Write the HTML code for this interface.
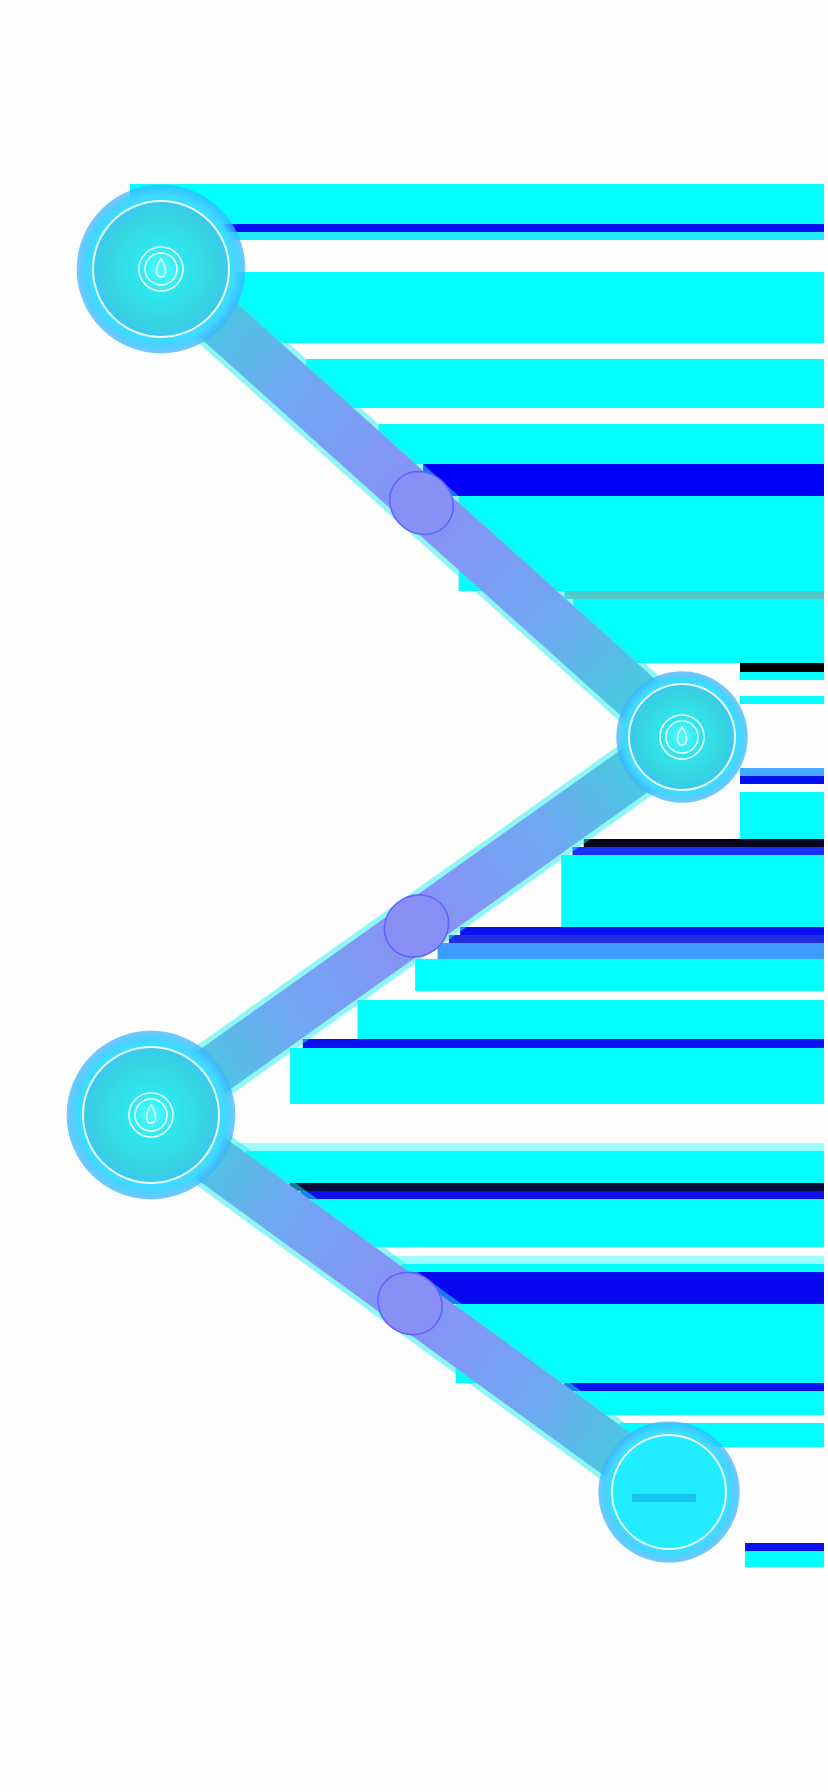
<!DOCTYPE html>
<html><head><meta charset="utf-8"><style>
html,body{margin:0;padding:0;background:#fdfdfd;}
svg{display:block;}
</style></head><body>
<svg id="chart" width="828" height="1792" viewBox="0 0 828 1792" xmlns="http://www.w3.org/2000/svg">
<defs>
<linearGradient id="lg" gradientUnits="objectBoundingBox" x1="0" y1="0" x2="1" y2="0">
<stop offset="0" stop-color="#33dcd6"/><stop offset="0.25" stop-color="#6fa8f2"/><stop offset="0.5" stop-color="#8a8ff6"/><stop offset="0.75" stop-color="#6fa8f2"/><stop offset="1" stop-color="#33dcd6"/>
</linearGradient>
<radialGradient id="nf"><stop offset="0" stop-color="#4ffcff"/><stop offset="0.35" stop-color="#2fe6ee"/><stop offset="0.8" stop-color="#36d4e0"/><stop offset="1" stop-color="#3cc8f0"/></radialGradient>
<radialGradient id="gl"><stop offset="0.7" stop-color="#33e8ff"/><stop offset="0.88" stop-color="#40d8ff"/><stop offset="1" stop-color="#3ab0ff" stop-opacity="0.7"/></radialGradient>
</defs>
<g id="bands"></g>
<g id="links"></g>
<g id="nodes"></g>
</svg>
<script>
const NS='http://www.w3.org/2000/svg';
const bandTop=[184,224,232,272,359,424,464,496,591,599,663,672,696,768,776,792,839,847,855,927,935,943,959,1000,1039,1048,1143,1151,1183,1191,1199,1256,1264,1272,1304,1383,1391,1423,1543,1551];
const bandBottom=[224,232,240,343,408,464,496,591,599,663,672,680,704,776,784,839,847,855,927,935,943,959,991,1039,1048,1104,1151,1183,1191,1199,1247,1264,1272,1304,1383,1391,1415,1447,1551,1567];
const bandColor=['#00ffff','#0a10f0','#20eaff','#00ffff','#00ffff','#00ffff','#0000f8','#00ffff','#50c8c8','#00ffff','#000000','#00ffff','#00ffff','#44aaff','#0010f0','#00ffff','#050520','#1a30ff','#00ffff','#0a10f0','#2030e0','#3c9cff','#00ffff','#00ffff','#0a10f0','#00ffff','#9cfcff','#00ffff','#08083a','#0a10f0','#00ffff','#9cfcff','#00ffff','#0808f0','#00ffff','#0a10f0','#00ffff','#00ffff','#0a10f0','#00ffff'];
const nodeX=[161,682,151,669];
const nodeY=[269,737,1115,1492];
const nodeR=[68,53,68,57];
const bumpT=[0.5,0.5,0.5];
const svg=document.getElementById('chart');
function mk(t,a,p){const e=document.createElementNS(NS,t);for(const k in a)e.setAttribute(k,a[k]);p.appendChild(e);return e;}
function centerX(y){
  if(y>=nodeY[nodeY.length-1]) return nodeX[nodeX.length-1];
  for(let i=0;i<nodeY.length-1;i++){
    if(y<=nodeY[i+1]){
      const t=(y-nodeY[i])/(nodeY[i+1]-nodeY[i]);
      return nodeX[i]+t*(nodeX[i+1]-nodeX[i]);
    }
  }
}
const bg=document.getElementById('bands');
for(let i=0;i<bandTop.length;i++){
  let y=bandTop[i];
  let x=y<240?130:centerX(y)+45;
  if(y>=660&&y<800) x=Math.max(x,740);
  if(y>=1530) x=745;
  const r=mk('rect',{x:x,y:y,width:Math.max(0,824-x),height:bandBottom[i]-y,fill:bandColor[i]},bg);
  
  
}
const lg=document.getElementById('links');
for(let i=0;i<nodeX.length-1;i++){
  const x1=nodeX[i],y1=nodeY[i],x2=nodeX[i+1],y2=nodeY[i+1];
  const len=Math.hypot(x2-x1,y2-y1),ang=Math.atan2(y2-y1,x2-x1)*180/Math.PI;
  const g=mk('g',{transform:`translate(${x1},${y1}) rotate(${ang})`},lg);
  
  
  mk('rect',{x:0,y:-30,width:len,height:60,fill:'#22f0f0',opacity:0.5},g);
  mk('rect',{x:0,y:-25,width:len,height:50,fill:'url(#lg)'},g);
  const b=mk('ellipse',{cx:len*bumpT[i],cy:0,rx:33,ry:30,fill:'#8890f6',stroke:'#6060ff','stroke-width':1.5},g);
  
  
}
const ng=document.getElementById('nodes');
for(let i=0;i<nodeX.length;i++){
  const cx=nodeX[i],cy=nodeY[i],r=nodeR[i];
  const g=mk('g',{},ng);
  
  
  mk('circle',{cx,cy,r:r*1.24,fill:'url(#gl)'},g);
  mk('circle',{cx,cy,r:r,fill:i==3?'#22ecff':'url(#nf)',stroke:'#e8ffff','stroke-width':2},g);
  if(i<3){
    for(const rr of [22,16]) mk('circle',{cx,cy,r:rr,fill:'none',stroke:'#e8ffff','stroke-width':1.6},g);
    mk('path',{d:`M${cx} ${cy-10} C${cx+6} ${cy-2} ${cx+6} ${cy+8} ${cx} ${cy+8} C${cx-6} ${cy+8} ${cx-6} ${cy-2} ${cx} ${cy-10}Z`,fill:'none',stroke:'#e8ffff','stroke-width':1.6},g);
  } else {
    mk('rect',{x:cx-37,y:cy+2,width:64,height:8,fill:'#16c4f2'},g);
  }
}
</script>
</body></html>
